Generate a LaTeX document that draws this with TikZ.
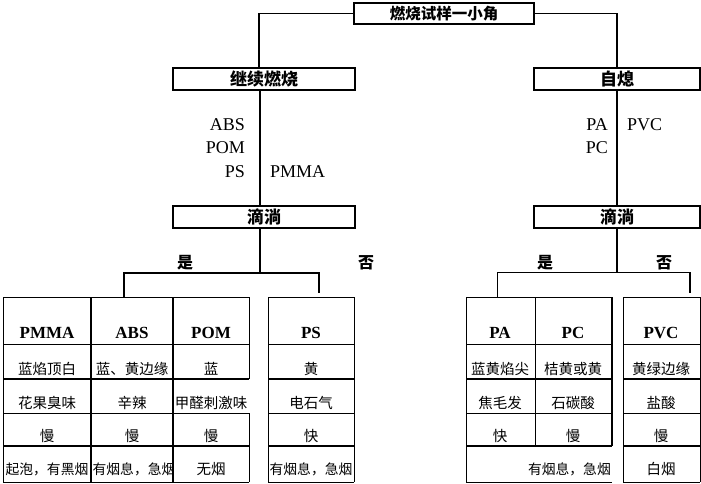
\documentclass[tikz,border=0pt]{standalone}
\usepackage{fontspec}
\setmainfont{Liberation Serif}
\newfontfamily\cjk{Noto Sans CJK SC}
\begin{document}
\begin{tikzpicture}[x=1pt,y=-1pt,
  box/.style={draw, line width=1.6pt, inner sep=0pt, font=\cjk\bfseries\fontsize{17}{19}\selectfont},
  conn/.style={line width=1.3pt},
  thn/.style={line width=0.8pt},
  thk/.style={line width=1.8pt},
  cell/.style={font=\cjk\fontsize{14.5}{16}\selectfont, inner sep=0pt},
  cellsm/.style={font=\cjk\fontsize{13.8}{16}\selectfont, inner sep=0pt},
  hdr/.style={font=\bfseries\fontsize{17}{19}\selectfont, inner sep=0pt},
  lab/.style={font=\fontsize{18}{20}\selectfont, inner sep=0pt},
  yn/.style={font=\cjk\bfseries\fontsize{16}{18}\selectfont, inner sep=0pt}]
\useasboundingbox (0,0) rectangle (701,483);
\fill[white] (0,0) rectangle (701,483);

% boxes
\node[box, minimum width=180pt, minimum height=21pt, font=\cjk\bfseries\fontsize{15.5}{17}\selectfont] (top) at (444,13.5) {燃烧试样一小角};
\node[box, minimum width=182pt, minimum height=22pt] (burn) at (264,79) {继续燃烧};
\node[box, minimum width=166pt, minimum height=22pt] (self) at (617,79) {自熄};
\node[box, minimum width=182pt, minimum height=22pt] (drip1) at (264,217) {滴淌};
\node[box, minimum width=166pt, minimum height=22pt] (drip2) at (617,217) {滴淌};

% connectors
\draw[conn] (top.west) -| ([xshift=-5pt]burn.north);
\draw[conn] (top.east) -| (self.north);
\draw[conn] ([xshift=-4pt]burn.south) -- ([xshift=-4pt]drip1.north);
\draw[conn] (self.south) -- (drip2.north);

% side labels
\node[lab, anchor=east] (l1) at (245,125) {ABS};
\node[lab, anchor=east] (l2) at (245,148) {POM};
\node[lab, anchor=east] (l3) at (245,172) {PS};
\node[lab, anchor=west] (l4) at (270,172) {PMMA};
\node[lab, anchor=east] (r1) at (608,125) {PA};
\node[lab, anchor=east] (r2) at (608,148) {PC};
\node[lab, anchor=west] (r3) at (627,125) {PVC};

% brackets
\coordinate (bl) at (124,273);
\coordinate (br) at (319,273);
\coordinate (blt) at (124,297);
\coordinate (brt) at (319,293);
\draw[conn] ([xshift=-4pt]drip1.south) -- ([xshift=-4pt]drip1.south |- bl);
\draw[thk] (blt) -- (bl) -- (br) -- (brt);
\coordinate (cl) at (497,272);
\coordinate (cr) at (690,272);
\coordinate (clt) at (497,297);
\coordinate (crt) at (690,293);
\draw[conn] (drip2.south) -- (drip2.south |- cl);
\draw[thn] (clt) -- (cl) -- (cr);
\draw[thk] (cr) -- (crt);
\node[yn] (y1) at (185,263) {是};
\node[yn] (n1) at (366,263) {否};
\node[yn] (y2) at (545,263) {是};
\node[yn] (n2) at (664,263) {否};

% grid: left group
\draw[thn] (3,297) -- (249,297) (3,344) -- (249,344) (3,413) -- (249,413) (3,482) -- (249,482);
\draw[thk] (3,379) -- (249,379) (3,446) -- (249,446);
\draw[thn] (3,297) -- (3,482) (249,297) -- (249,379) (249,413) -- (249,482);
% PS
\draw[thn] (268,297) -- (354,297) (268,344) -- (354,344) (268,413) -- (354,413) (268,482) -- (354,482);
\draw[thk] (268,379) -- (354,379) (268,446) -- (354,446);
\draw[thn] (268,297) -- (268,482) (354,297) -- (354,482);
% right group
\draw[thn] (466,297) -- (612,297) (466,344) -- (612,344) (466,413) -- (612,413) (466,482) -- (612,482);
\draw[thk] (466,379) -- (612,379) (466,446) -- (612,446);
\draw[thn] (466,297) -- (466,482) (535,297) -- (535,446);
\draw[thk] (612,297) -- (612,446);
% PVC
\draw[thn] (623,297) -- (700,297) (623,344) -- (700,344) (623,413) -- (700,413) (623,482) -- (700,482);
\draw[thk] (623,379) -- (700,379) (623,446) -- (700,446);
\draw[thn] (623,297) -- (623,482) (700,297) -- (700,482);

% headers
\node[hdr] (h1) at (47,333) {PMMA};
\node[hdr] (h2) at (132,333) {ABS};
\node[hdr] (h3) at (211,333) {POM};
\node[hdr] (h4) at (311,333) {PS};
\node[hdr] (h5) at (500,333) {PA};
\node[hdr] (h6) at (573,333) {PC};
\node[hdr] (h7) at (661,333) {PVC};

% row 1
\node[cell] (a1) at (47,369) {蓝焰顶白};
\node[cell] (b1) at (132,369) {蓝、黄边缘};
\node[cell] (c1) at (211,369) {蓝};
\node[cell] (d1) at (311,369) {黄};
\node[cell] (e1) at (500,369) {蓝黄焰尖};
\node[cell] (f1) at (573,369) {桔黄或黄};
\node[cell] (g1) at (661,369) {黄绿边缘};
% row 2
\node[cell] (a2) at (47,403) {花果臭味};
\node[cell] (b2) at (132,403) {辛辣};
\node[cell] (c2) at (211,403) {甲醛刺激味};
\node[cell] (d2) at (311,403) {电石气};
\node[cell] (e2) at (500,403) {焦毛发};
\node[cell] (f2) at (573,403) {石碳酸};
\node[cell] (g2) at (661,403) {盐酸};
% row 3
\node[cell] (a3) at (47,436) {慢};
\node[cell] (b3) at (132,436) {慢};
\node[cell] (c3) at (211,436) {慢};
\node[cell] (d3) at (311,436) {快};
\node[cell] (e3) at (500,436) {快};
\node[cell] (f3) at (573,436) {慢};
\node[cell] (g3) at (661,436) {慢};
% row 4
\node[cellsm] (a4) at (47,469) {起泡，有黑烟};
\node[cellsm] (b4) at (134,469) {有烟息，急烟};
\node[cell] (c4) at (211,469) {无烟};
\node[cellsm] (d4) at (311,469) {有烟息，急烟};
\node[cellsm, anchor=east] (e4) at (611,469) {有烟息，急烟};
\node[cell] (g4) at (661,469) {白烟};

% thick column lines drawn last so they cut overflowing text as in the reference
\fill[white] (172.5,452) rectangle (176,480);
\draw[thk] (91,297) -- (91,482) (173,297) -- (173,482);
\end{tikzpicture}
\end{document}
